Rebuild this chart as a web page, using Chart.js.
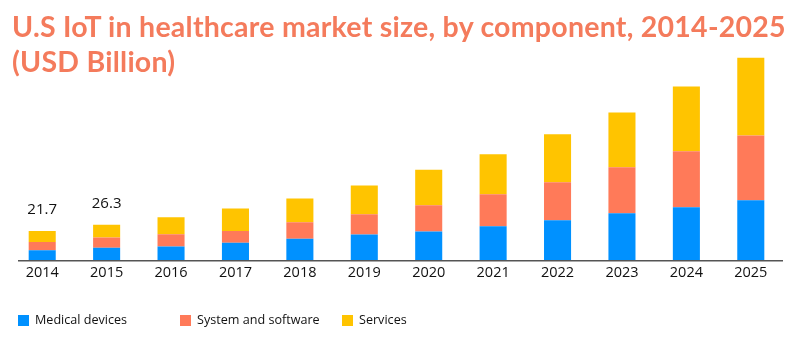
<!DOCTYPE html>
<html>
<head>
<meta charset="utf-8">
<script src="https://cdn.jsdelivr.net/npm/chart.js@4.4.1/dist/chart.umd.min.js"></script>
<style>
  html, body { margin: 0; padding: 0; background: #fff; }
  #wrap { position: relative; width: 800px; height: 344px; overflow: hidden; }
  #c { position: absolute; left: 0; top: 0; }
  #title {
    position: absolute; left: 12px; top: 8.5px;
    font-family: Lato, sans-serif; font-weight: 700; font-size: 28.5px; line-height: 35px;
    letter-spacing: 0.25px; color: #f47b5c; white-space: nowrap;
  }
  #legend {
    position: absolute; left: 18px; top: 311px; display: flex;
    font-family: 'Open Sans', sans-serif; font-size: 12.6px; line-height: 18px; color: #111;
  }
  #legend .item { width: 162px; display: flex; align-items: center; }
  #legend .box { width: 11px; height: 11px; margin-right: 6px; flex: none; }
</style>
</head>
<body>
<div id="wrap">
  <canvas id="c" width="800" height="344"></canvas>
  <div id="title">U.S IoT in healthcare market size, by component, 2014-2025<br>(USD Billion)</div>
  <div id="legend"></div>
</div>
<script>
// Market size by component, USD billion
const years = ['2014', '2015', '2016', '2017', '2018', '2019', '2020', '2021', '2022', '2023', '2024', '2025'];
const medicalDevices = [7.2, 9.2, 10.1, 12.9, 15.9, 19.1, 21.3, 25.3, 29.8, 35.0, 39.5, 44.7];
const systemSoftware = [6.3, 7.6, 9.2, 8.7, 12.4, 15.2, 19.7, 23.9, 28.4, 34.4, 41.9, 48.4];
const services = [8.2, 9.5, 12.7, 17.0, 17.7, 21.5, 26.5, 29.9, 35.9, 40.9, 48.4, 58.1];
// Years whose stacked total is printed above the bar
const labelledYears = ['2014', '2015'];

const seriesNames = ['Medical devices', 'System and software', 'Services'];
const seriesColors = ['#0091ff', '#ff7a59', '#ffc400'];
const seriesValues = [medicalDevices, systemSoftware, services];

// Stack totals printed above selected bars
const totalLabels = {
  id: 'totalLabels',
  afterDatasetsDraw(chart) {
    const ctx = chart.ctx;
    const topMeta = chart.getDatasetMeta(chart.data.datasets.length - 1);
    ctx.save();
    ctx.font = '15px "Open Sans", sans-serif';
    ctx.fillStyle = '#111';
    ctx.textAlign = 'center';
    ctx.textBaseline = 'alphabetic';
    labelledYears.forEach(y => {
      const i = years.indexOf(y);
      const total = seriesValues.reduce((s, arr) => s + arr[i], 0);
      const bar = topMeta.data[i];
      ctx.fillText(total.toFixed(1), bar.x, bar.y - 16.7);
    });
    ctx.restore();
  }
};

// Category axis baseline
const baseLine = {
  id: 'baseLine',
  afterDatasetsDraw(chart) {
    const { ctx, chartArea } = chart;
    ctx.save();
    ctx.strokeStyle = '#555';
    ctx.lineWidth = 1.5;
    ctx.beginPath();
    ctx.moveTo(chartArea.left + 8, chartArea.bottom + 0.75);
    ctx.lineTo(chartArea.right, chartArea.bottom + 0.75);
    ctx.stroke();
    ctx.restore();
  }
};

const chart = new Chart(document.getElementById('c'), {
  type: 'bar',
  data: {
    labels: years,
    datasets: seriesNames.map((name, k) => ({
      label: name,
      data: seriesValues[k],
      backgroundColor: seriesColors[k],
      borderWidth: 0,
      categoryPercentage: 1,
      barPercentage: 0.42
    }))
  },
  options: {
    responsive: false,
    animation: false,
    layout: { padding: { left: 10, right: 17, top: 39.4, bottom: 58.6 } },
    plugins: {
      legend: { display: false },
      title: { display: false },
      tooltip: { enabled: false }
    },
    scales: {
      x: {
        stacked: true,
        grid: { display: false, drawTicks: false },
        border: { display: false },
        ticks: {
          padding: 4, color: '#111', maxRotation: 0, autoSkip: false,
          font: { family: '"Open Sans", sans-serif', size: 14.5 }
        }
      },
      y: { stacked: true, display: false, min: 0, max: 165 }
    }
  },
  plugins: [totalLabels, baseLine]
});

// Legend built from the chart's datasets
const legendEl = document.getElementById('legend');
chart.data.datasets.forEach(ds => {
  const item = document.createElement('div');
  item.className = 'item';
  const box = document.createElement('span');
  box.className = 'box';
  box.style.background = ds.backgroundColor;
  const txt = document.createElement('span');
  txt.textContent = ds.label;
  item.appendChild(box);
  item.appendChild(txt);
  legendEl.appendChild(item);
});
</script>
</body>
</html>
